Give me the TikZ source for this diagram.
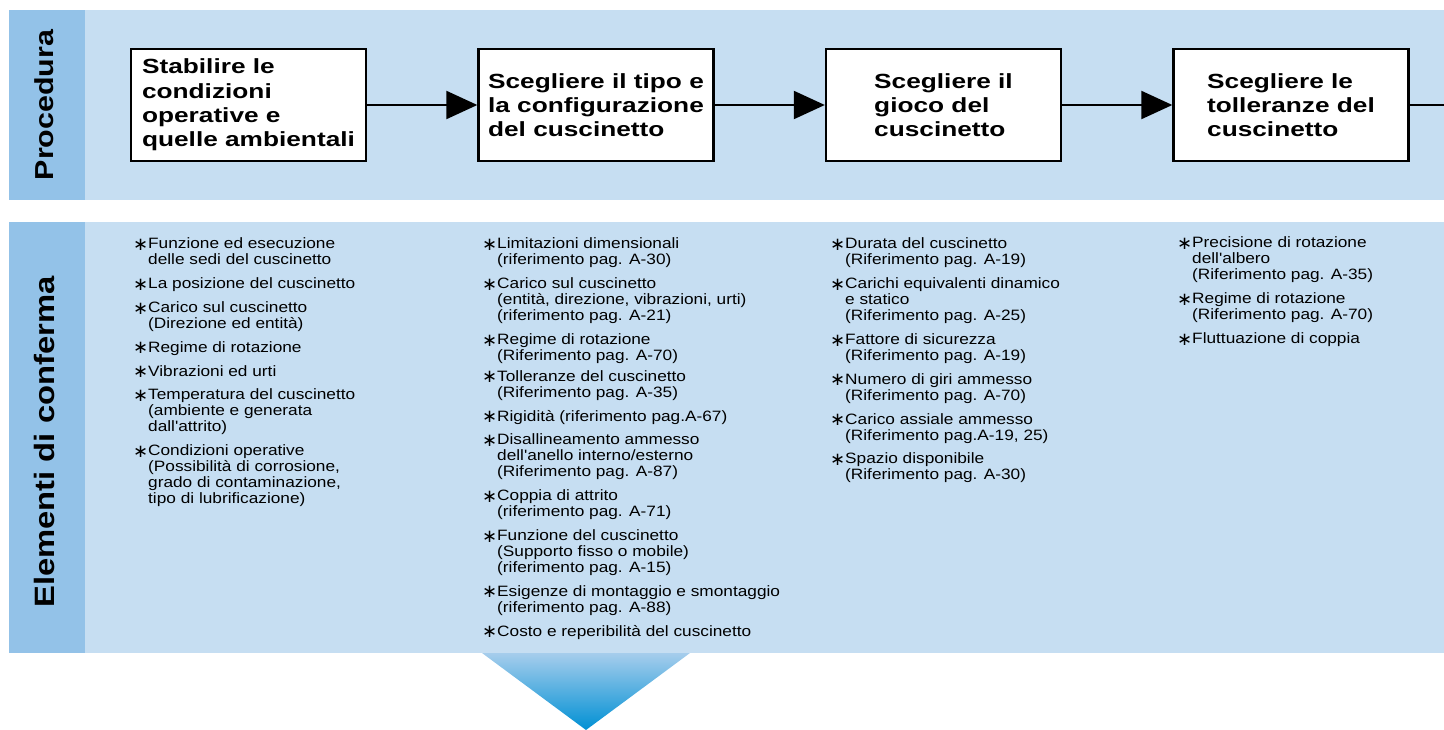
\documentclass[tikz,border=0pt]{standalone}
\usepackage{fontspec}
\setmainfont{Liberation Sans}
\newfontfamily\listfont{Liberation Sans}[FakeStretch=1.15]
\newfontfamily\boxfont{Liberation Sans}[FakeStretch=1.28]
\newfontfamily\sidefont{Liberation Sans}[FakeStretch=1.17]
\newfontfamily\symfont{DejaVu Sans}
\usetikzlibrary{positioning, arrows.meta}

\definecolor{bandblue}{RGB}{198,222,242}
\definecolor{stripblue}{RGB}{147,194,232}
\definecolor{tiptop}{RGB}{166,205,236}
\definecolor{tipbottom}{RGB}{0,144,212}

\newcommand{\starm}{\makebox[15pt][l]{\smash{\raisebox{-1.5pt}{\symfont\fontsize{18}{15}\selectfont ∗}}}}

\tikzset{
  stepbox/.style={draw, line width=2.4pt, fill=white, minimum width=235pt,
    minimum height=112pt, align=left, inner sep=0pt,
    font=\boxfont\bfseries\fontsize{20.5}{24.3}\selectfont},
  sidelabel/.style={rotate=90, inner sep=0pt},
  checklist/.style={anchor=base west, inner sep=0pt,
    font=\listfont\fontsize{15}{16}\selectfont},
  flow/.style={line width=2.2pt}
}

\begin{document}
\begin{tikzpicture}[x=1pt,y=-1pt,>={Triangle[length=31pt,width=28pt]},node distance=347.5pt,on grid]
  \useasboundingbox (0,0) rectangle (1444,730);

  % bands
  \fill[stripblue] (9,10) rectangle (85,200);
  \fill[bandblue] (85,10) rectangle (1444,200);
  \fill[stripblue] (9,222) rectangle (85,653);
  \fill[bandblue] (85,222) rectangle (1444,653);
  \shade[top color=tiptop, bottom color=tipbottom] (482,653) -- (690,653) -- (586,730) -- cycle;

  \node[sidelabel, font=\sidefont\bfseries\fontsize{26}{26}\selectfont] (proc) at (44,105) {Procedura};
  \node[sidelabel, font=\sidefont\bfseries\fontsize{28}{28}\selectfont] (conf) at (44,442) {Elementi di conferma};

  % procedure steps
  \node[stepbox] (s1) at (248.5,105) {Stabilire le\\condizioni\\operative e\\quelle ambientali};
  \node[stepbox] (s2) [right=of s1] {Scegliere il tipo e\\la configurazione\\del cuscinetto};
  \node[stepbox] (s3) [right=of s2] {Scegliere il\\gioco del\\cuscinetto};
  \node[stepbox] (s4) [right=of s3] {Scegliere le\\tolleranze del\\cuscinetto};
  \coordinate (rim) at (1444,105);

  \path[->, flow]
    (s1) edge (s2)
    (s2) edge (s3)
    (s3) edge (s4);
  \draw[flow] (s4) -- (rim);

  % items to check
  \node[checklist] (c1) at (133,249) {\begin{tabular}[t]{@{}l@{}l@{}}
    \starm & Funzione ed esecuzione\\
           & delle sedi del cuscinetto\\[7.8pt]
    \starm & La posizione del cuscinetto\\[7.8pt]
    \starm & Carico sul cuscinetto\\
           & (Direzione ed entità)\\[7.8pt]
    \starm & Regime di rotazione\\[7.8pt]
    \starm & Vibrazioni ed urti\\[7.8pt]
    \starm & Temperatura del cuscinetto\\
           & (ambiente e generata\\
           & dall'attrito)\\[7.8pt]
    \starm & Condizioni operative\\
           & (Possibilità di corrosione,\\
           & grado di contaminazione,\\
           & tipo di lubrificazione)
  \end{tabular}};

  \node[checklist] (c2) at (482,249) {\begin{tabular}[t]{@{}l@{}l@{}}
    \starm & Limitazioni dimensionali\\
           & (riferimento pag. A-30)\\[7.8pt]
    \starm & Carico sul cuscinetto\\
           & (entità, direzione, vibrazioni, urti)\\
           & (riferimento pag. A-21)\\[7.8pt]
    \starm & Regime di rotazione\\
           & (Riferimento pag. A-70)\\[4.8pt]
    \starm & Tolleranze del cuscinetto\\
           & (Riferimento pag. A-35)\\[7.8pt]
    \starm & Rigidità (riferimento pag.A-67)\\[7.8pt]
    \starm & Disallineamento ammesso\\
           & dell'anello interno/esterno\\
           & (Riferimento pag. A-87)\\[7.8pt]
    \starm & Coppia di attrito\\
           & (riferimento pag. A-71)\\[7.8pt]
    \starm & Funzione del cuscinetto\\
           & (Supporto fisso o mobile)\\
           & (riferimento pag. A-15)\\[7.8pt]
    \starm & Esigenze di montaggio e smontaggio\\
           & (riferimento pag. A-88)\\[7.8pt]
    \starm & Costo e reperibilità del cuscinetto
  \end{tabular}};

  \node[checklist] (c3) at (830,249) {\begin{tabular}[t]{@{}l@{}l@{}}
    \starm & Durata del cuscinetto\\
           & (Riferimento pag. A-19)\\[7.8pt]
    \starm & Carichi equivalenti dinamico\\
           & e statico\\
           & (Riferimento pag. A-25)\\[7.8pt]
    \starm & Fattore di sicurezza\\
           & (Riferimento pag. A-19)\\[7.8pt]
    \starm & Numero di giri ammesso\\
           & (Riferimento pag. A-70)\\[7.8pt]
    \starm & Carico assiale ammesso\\
           & (Riferimento pag.A-19, 25)\\[7.8pt]
    \starm & Spazio disponibile\\
           & (Riferimento pag. A-30)
  \end{tabular}};

  \node[checklist] (c4) at (1177,248) {\begin{tabular}[t]{@{}l@{}l@{}}
    \starm & Precisione di rotazione\\
           & dell'albero\\
           & (Riferimento pag. A-35)\\[7.8pt]
    \starm & Regime di rotazione\\
           & (Riferimento pag. A-70)\\[7.8pt]
    \starm & Fluttuazione di coppia
  \end{tabular}};
\end{tikzpicture}
\end{document}
